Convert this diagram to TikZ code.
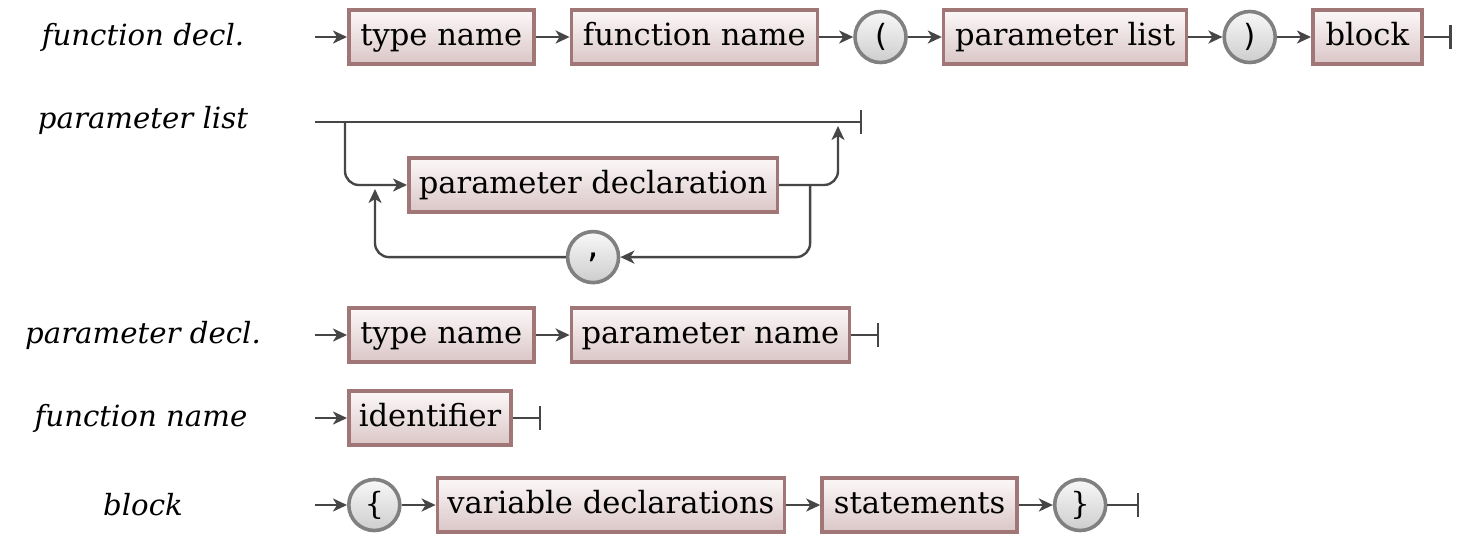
\documentclass[tikz,border=0pt]{standalone}
\usepackage{fontspec}
\setmainfont{DejaVu Serif}
\setmonofont{DejaVu Sans Mono}
\usetikzlibrary{arrows.meta, positioning}
\definecolor{boxline}{RGB}{160,118,118}
\definecolor{boxtop}{RGB}{252,248,248}
\definecolor{boxbot}{RGB}{218,198,199}
\definecolor{termline}{RGB}{128,128,128}
\definecolor{termtop}{RGB}{248,248,248}
\definecolor{termbot}{RGB}{205,205,205}
\definecolor{wirecol}{RGB}{70,70,70}

\begin{document}
\begin{tikzpicture}[x=1pt, y=1pt, node distance=17pt, >={Stealth[length=7pt,width=6.5pt,inset=2pt]}, rule/.style={font=\fontsize{14.6}{16}\selectfont\itshape}, nonterm/.style={draw=boxline, line width=1.8pt, top color=boxtop, bottom color=boxbot, minimum height=27pt, inner xsep=5pt, text height=11pt, text depth=3pt, font=\fontsize{15.3}{17}\selectfont}, term/.style={circle, draw=termline, line width=1.8pt, top color=termtop, bottom color=termbot, minimum size=25.5pt, inner sep=0pt, font=\fontsize{15.3}{17}\selectfont}, wire/.style={wirecol, line width=1.2pt}, endbar/.style={-{Bar[width=12pt]}}]
\useasboundingbox (0,0) rectangle (733.5,-271.5);

\node[rule] (lblFd) at (71.5,-18.5)  {function decl.};
\node[rule] (lblPl) at (71.5,-60)    {parameter list};
\node[rule] (lblPd) at (71.5,-167.5) {parameter decl.};
\node[rule] (lblFn) at (70.5,-209)   {function name};
\node[rule] (lblBl) at (71.5,-252.5) {block};

\coordinate (fdStart) at (157.5,-18.5);
\node[nonterm, minimum width=92.5pt, right=16pt of fdStart] (fdType)   {type name};
\node[nonterm, minimum width=123pt, right=of fdType]        (fdName)   {function name};
\node[term, right=of fdName]                                (fdOpen)   {\texttt{(}};
\node[nonterm, minimum width=121.5pt, right=of fdOpen]      (fdParams) {parameter list};
\node[term, right=of fdParams]                              (fdClose)  {\texttt{)}};
\node[nonterm, minimum width=54.5pt, right=of fdClose]      (fdBlock)  {block};
\coordinate[right=14pt of fdBlock] (fdEnd);
\path[wire, ->]
(fdStart)  edge (fdType)
(fdType)   edge (fdName)
(fdName)   edge (fdOpen)
(fdOpen)   edge (fdParams)
(fdParams) edge (fdClose)
(fdClose)  edge (fdBlock);
\draw[wire, endbar] (fdBlock) -- (fdEnd);

\coordinate (plStart) at (157.5,-61);
\coordinate (plEnd) at (431,-61);
\coordinate[right=15pt of plStart] (plSplit);
\coordinate[left=12pt of plEnd] (plJoin);
\node[nonterm, minimum width=184pt, anchor=west] (plDecl) at (203.5,-92.5) {parameter declaration};
\node[term, below=8pt of plDecl] (plComma) {\texttt{,}};
\coordinate[right=15.5pt of plDecl.east] (plLoopR);
\coordinate[left=16pt of plDecl.west] (plLoopL);
\draw[wire, endbar] (plStart) -- (plEnd);
\draw[wire, ->, rounded corners=7pt] (plSplit) |- (plDecl);
\draw[wire, ->, rounded corners=7pt, shorten >=2pt] (plDecl) -| (plJoin);
\draw[wire, ->, rounded corners=7pt] (plLoopR) |- (plComma);
\draw[wire, ->, rounded corners=7pt, shorten >=2pt] (plComma) -| (plLoopL);

\coordinate (pdStart) at (157.5,-167.5);
\node[nonterm, minimum width=92.5pt, right=16pt of pdStart] (pdType) {type name};
\node[nonterm, minimum width=139pt, right=of pdType]        (pdName) {parameter name};
\coordinate[right=14pt of pdName] (pdEnd);
\path[wire, ->]
(pdStart) edge (pdType)
(pdType)  edge (pdName);
\draw[wire, endbar] (pdName) -- (pdEnd);

\coordinate (fnStart) at (157.5,-209);
\node[nonterm, minimum width=81pt, right=16pt of fnStart] (fnIdent) {identifier};
\coordinate[right=14pt of fnIdent] (fnEnd);
\draw[wire, ->] (fnStart) -- (fnIdent);
\draw[wire, endbar] (fnIdent) -- (fnEnd);

\coordinate (blStart) at (157.5,-252.5);
\node[term, right=16pt of blStart]                   (blOpen)  {\{};
\node[nonterm, minimum width=173pt, right=of blOpen] (blVars)  {variable declarations};
\node[nonterm, minimum width=97.5pt, right=of blVars] (blStmts) {statements};
\node[term, right=of blStmts]                        (blClose) {\}};
\coordinate[right=16pt of blClose] (blEnd);
\path[wire, ->]
(blStart) edge (blOpen)
(blOpen)  edge (blVars)
(blVars)  edge (blStmts)
(blStmts) edge (blClose);
\draw[wire, endbar] (blClose) -- (blEnd);
\end{tikzpicture}
\end{document}
